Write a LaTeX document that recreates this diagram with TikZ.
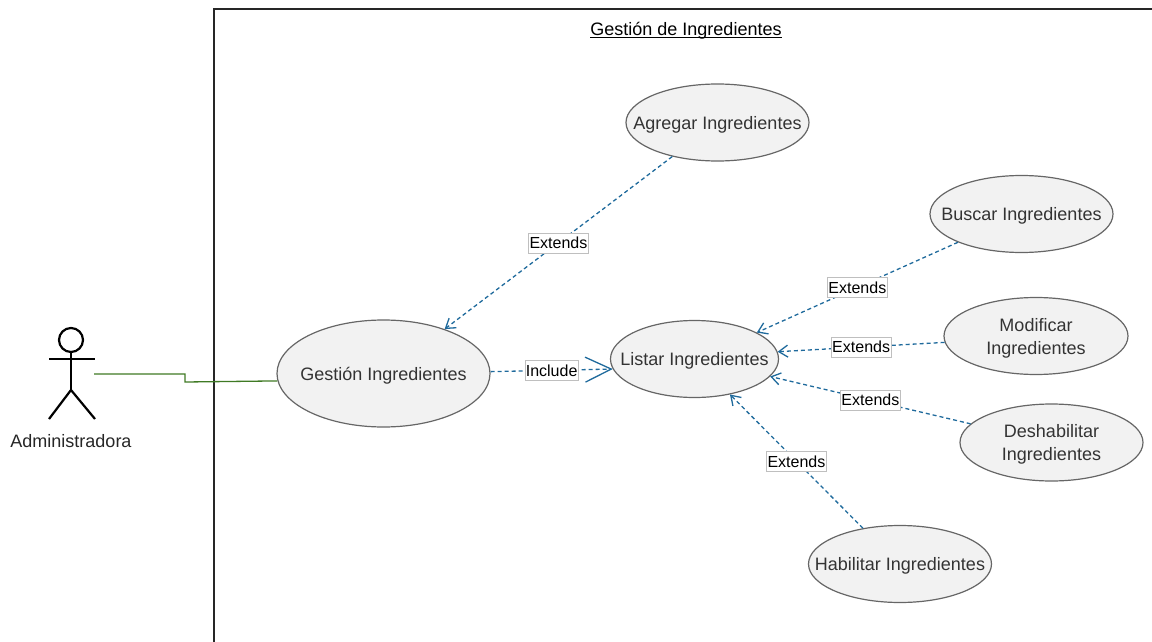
\documentclass[tikz,border=0pt]{standalone}
\usepackage{fontspec}
\setmainfont{Liberation Sans}
\usetikzlibrary{shapes.geometric,arrows.meta}
\definecolor{ucfill}{HTML}{F2F2F2}
\definecolor{ucline}{HTML}{666666}
\definecolor{uctext}{HTML}{333333}
\definecolor{relblue}{HTML}{1F6A9C}
\definecolor{assocgreen}{HTML}{3F7A24}
\begin{document}
\begin{tikzpicture}[x=1pt,y=-1pt,
    usecase/.style={shape=ellipse,draw=ucline,fill=ucfill,line width=1.2pt,inner xsep=-45pt,inner ysep=-10pt,text depth=0pt,text=uctext,align=center,font=\fontsize{18}{23}\selectfont},
    rellabel/.style={draw=black!25,fill=white,line width=0.6pt,inner xsep=1pt,inner ysep=0pt,minimum height=20pt,font=\fontsize{16}{18}\selectfont},
    extendsrel/.style={draw=relblue,line width=1.3pt,dash pattern=on 4pt off 3pt,-{Straight Barb[length=9pt,width=12pt]}},
    includerel/.style={draw=relblue,line width=1.3pt,dash pattern=on 4pt off 3pt,-{Straight Barb[length=26pt,width=25pt]}},
    actorline/.style={draw=black,line width=2.2pt}
    ]
    \useasboundingbox (0,0) rectangle (1152,642);

    % frame and title
    \coordinate (framebottom) at (214,642);
    \coordinate (framecorner) at (214,9);
    \coordinate (frameright) at (1152,9);
    \draw[line width=1.1pt,draw=black!85] (framebottom) -- (framecorner) -- (frameright);
    \node[anchor=base,font=\fontsize{18}{22}\selectfont] (title) at (686,36) {\underline{\smash{Gestión de Ingredientes}}};

    % use cases
    \node[usecase,minimum width=213pt,minimum height=107pt] (gestion) at (383.5,373.5) {Gestión Ingredientes};
    \node[usecase,minimum width=168pt,minimum height=77pt] (listar) at (694.5,359) {Listar Ingredientes};
    \node[usecase,minimum width=183pt,minimum height=77pt] (agregar) at (717.5,122.5) {Agregar Ingredientes};
    \node[usecase,minimum width=183pt,minimum height=77pt] (buscar) at (1021.5,214) {Buscar Ingredientes};
    \node[usecase,minimum width=184pt,minimum height=77pt] (modificar) at (1036,336) {Modificar\\Ingredientes};
    \node[usecase,minimum width=183pt,minimum height=77pt] (deshabilitar) at (1051.5,442.5) {Deshabilitar\\Ingredientes};
    \node[usecase,minimum width=183pt,minimum height=77pt] (habilitar) at (900,564) {Habilitar Ingredientes};

    % actor
    \node[circle,actorline,fill=white,inner sep=0pt,minimum size=24pt] (head) at (71,340) {};
    \coordinate (armleft) at (49,359);
    \coordinate (armright) at (95,359);
    \coordinate (hip) at (71,390);
    \coordinate (footleft) at (49,419);
    \coordinate (footright) at (95,419);
    \draw[actorline] (armleft) -- (armright);
    \draw[actorline] (head) -- (hip);
    \draw[actorline] (footleft) -- (hip) -- (footright);
    \node[font=\fontsize{18}{22}\selectfont,text=black!85] (actor) at (71,441) {Administradora};

    % association from the actor
    \coordinate (actorhand) at (94,374);
    \coordinate (stepone) at (185,374);
    \coordinate (steptwo) at (185,382);
    \draw[draw=assocgreen,line width=1.3pt] (actorhand) -- (stepone) -- (steptwo) -- (gestion.184);

    % extends and include
    \foreach \from/\fromangle/\to/\toangle in {agregar/217/gestion/36,buscar/204/listar/23,modificar/184/listar/5,deshabilitar/167/listar/347,habilitar/136/listar/315} {
        \draw[extendsrel] (\from.\fromangle) -- node[rellabel,solid] (label\from) {Extends} (\to.\toangle);
    }
    \draw[includerel] (gestion.1) -- node[rellabel,solid] (labelinclude) {Include} (listar.187);
\end{tikzpicture}
\end{document}
